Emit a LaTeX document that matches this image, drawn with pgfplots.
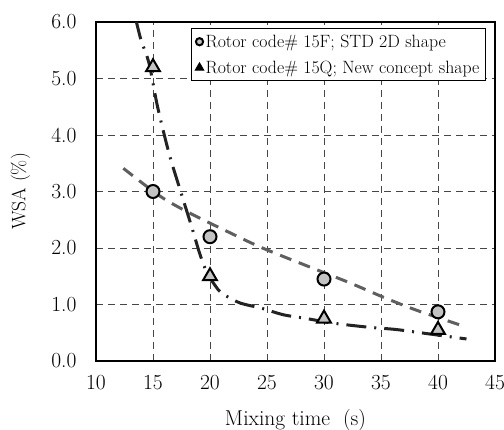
\documentclass[border=0pt]{standalone}
\usepackage{fontspec}
\usepackage{pgfplots}
\pgfplotsset{compat=1.18}
\definecolor{mfill}{RGB}{195,195,195}
\definecolor{fitgray}{RGB}{95,95,95}
\definecolor{fitdark}{RGB}{35,35,35}
\definecolor{gridc}{RGB}{70,70,70}
\begin{document}
\begin{tikzpicture}
\begin{axis}[
  scale only axis,
  width=399pt, height=339pt,
  xmin=10, xmax=45, ymin=0, ymax=6,
  xtick={10,15,...,45}, ytick={0,1,...,6},
  /pgf/number format/assume math mode=true,
  yticklabel style={xshift=-16pt, /pgf/number format/fixed, /pgf/number format/fixed zerofill, /pgf/number format/precision=1},
  tick label style={font=\fontsize{21.5}{23}\selectfont},
  xticklabel style={yshift=-11pt},
  xlabel={Mixing time\ \ (s)},
  ylabel={WSA (\%)},
  xlabel style={font=\fontsize{21.5}{23}\selectfont, at={(axis description cs:0.5,-0.174)}, anchor=center},
  ylabel style={font=\fontsize{19.5}{21}\selectfont, at={(axis description cs:-0.189,0.5)}, anchor=center},
  grid=major,
  major grid style={gridc, dash pattern=on 7pt off 5pt, line width=0.9pt},
  axis line style={line width=1.6pt},
  tick style={draw=none},
  legend style={at={(0.9775,0.982)}, anchor=north east, draw=black, line width=1.3pt,
    font=\fontsize{17.8}{19}\selectfont, row sep=8pt, inner sep=4pt,
    /tikz/every even column/.append style={column sep=1pt}},
  legend cell align=left,
  legend image code/.code={\draw[#1] plot coordinates {(0.2cm,0cm)};},
]
% fitted curves
\addplot[fitgray, line width=3pt, dash pattern=on 12pt off 8pt, smooth, forget plot]
  coordinates {(12.4,3.41) (15.6,2.92) (18.2,2.62) (21.75,2.27) (24.6,2.0) (28.8,1.66) (32.3,1.38) (35.2,1.13) (38.1,0.9) (42.5,0.6)};
\addplot[fitdark, line width=3pt, dash pattern=on 20pt off 8pt on 2pt off 8pt, smooth, forget plot]
  coordinates {(13.5,6.04) (13.95,5.68) (14.65,5.27) (15.4,4.5) (16.4,3.68) (17.3,3.08) (18.4,2.37) (19.1,1.9) (19.7,1.58) (20.4,1.35) (21.05,1.2) (22.6,1.03) (24.6,0.93) (26.4,0.82) (28.5,0.75) (30.8,0.67) (33.8,0.6) (36.2,0.56) (38.1,0.51) (42.5,0.39)};
% data
\addplot[only marks, mark=*, mark size=6.5pt, mark options={fill=mfill, draw=black, line width=2pt}, forget plot]
  coordinates {(15,3.0) (20,2.2) (30,1.45) (40,0.87)};
\addplot[only marks, mark=triangle*, mark size=8pt, mark options={fill=mfill, draw=black, line width=2pt}, forget plot]
  coordinates {(15,5.2) (20,1.5) (30,0.75) (40,0.55)};
% legend entries
\addlegendimage{only marks, mark=*, mark size=3.6pt, mark options={fill=mfill, draw=black, line width=2pt}}
\addlegendentry{Rotor code\# 15F; STD 2D shape}
\addlegendimage{only marks, mark=triangle*, mark size=4.8pt, mark options={fill=black, draw=black, line width=1pt}}
\addlegendentry{Rotor code\# 15Q; New concept shape}
\end{axis}
\pgfresetboundingbox
\path (-96pt,-69pt) rectangle (408pt,361pt);
\end{tikzpicture}
\end{document}
